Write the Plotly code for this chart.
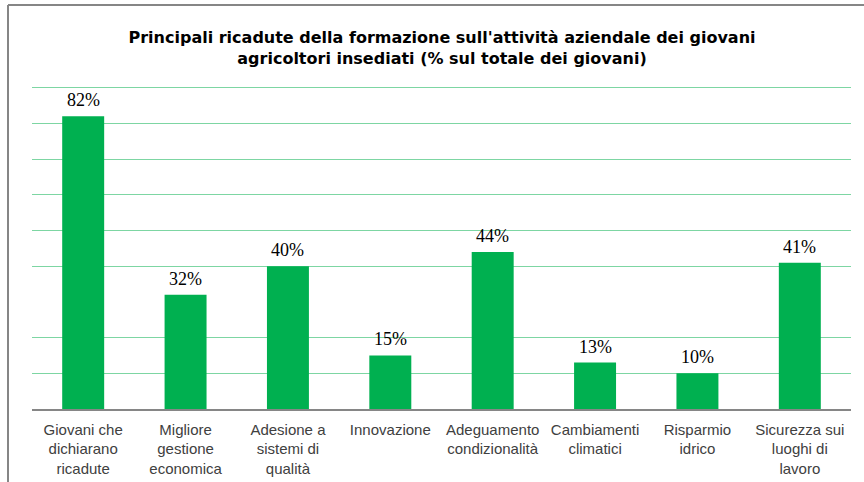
import plotly.graph_objects as go

categories = [
    "Giovani che<br>dichiarano<br>ricadute",
    "Migliore<br>gestione<br>economica",
    "Adesione a<br>sistemi di<br>qualità",
    "Innovazione",
    "Adeguamento<br>condizionalità",
    "Cambiamenti<br>climatici",
    "Risparmio<br>idrico",
    "Sicurezza sui<br>luoghi di<br>lavoro",
]
values = [82, 32, 40, 15, 44, 13, 10, 41]
value_labels = ["82%", "32%", "40%", "15%", "44%", "13%", "10%", "41%"]
grid_values = [0, 10, 20, 40, 50, 60, 70, 80, 90]
title_text = ("Principali ricadute della formazione sull'attività aziendale dei giovani<br>"
              "agricoltori insediati (% sul totale dei giovani)")

W, H = 864, 482
L, R, T, B = 32, 13, 86, 73
pw, ph = W - L - R, H - T - B


def px_to_paper_x(px):
    return (px - L) / pw


def px_to_paper_y(py):
    return (H - B - py) / ph


fig = go.Figure()
fig.add_trace(go.Bar(
    x=categories, y=values,
    marker=dict(color="#00b050", line=dict(width=0)),
    width=0.41,
    hoverinfo="skip",
))

for c, v, t in zip(categories, values, value_labels):
    fig.add_annotation(
        x=c, y=v, text=t, showarrow=False, yanchor="bottom", yshift=4,
        font=dict(family="Liberation Serif, Times New Roman, serif", size=18, color="#000000"),
    )

border = dict(color="#868686", width=2)
fig.add_shape(type="line", xref="paper", yref="paper",
              x0=px_to_paper_x(8), x1=px_to_paper_x(870),
              y0=px_to_paper_y(5), y1=px_to_paper_y(5), line=border)
fig.add_shape(type="line", xref="paper", yref="paper",
              x0=px_to_paper_x(8), x1=px_to_paper_x(8),
              y0=px_to_paper_y(5), y1=px_to_paper_y(490), line=border)

fig.update_layout(
    width=W, height=H,
    margin=dict(l=L, r=R, t=T, b=B, pad=0, autoexpand=False),
    paper_bgcolor="white", plot_bgcolor="white",
    showlegend=False,
    bargap=0.59,
    title=dict(
        text=title_text, x=px_to_paper_x(442), xref="paper", xanchor="center",
        yref="container", y=1 - 43 / H, yanchor="middle",
        font=dict(family="DejaVu Sans, Verdana, sans-serif", size=16, color="#000000", weight="bold"),
    ),
    xaxis=dict(
        showline=True, linecolor="#868686", linewidth=1.5, automargin=False,
        showgrid=False, ticks="", ticklen=0, ticklabelstandoff=6,
        tickfont=dict(family="Liberation Sans, Arial, sans-serif", size=15, color="#404040"),
        tickangle=0,
    ),
    yaxis=dict(
        range=[0, 90.5], tickvals=grid_values, showticklabels=False, automargin=False,
        showgrid=True, gridcolor="#7dd6a3", gridwidth=1.3,
        zeroline=False, showline=False, ticks="",
    ),
)

fig.write_html("out.html", config={"displayModeBar": False},
               post_script="document.body.style.margin='0';")
